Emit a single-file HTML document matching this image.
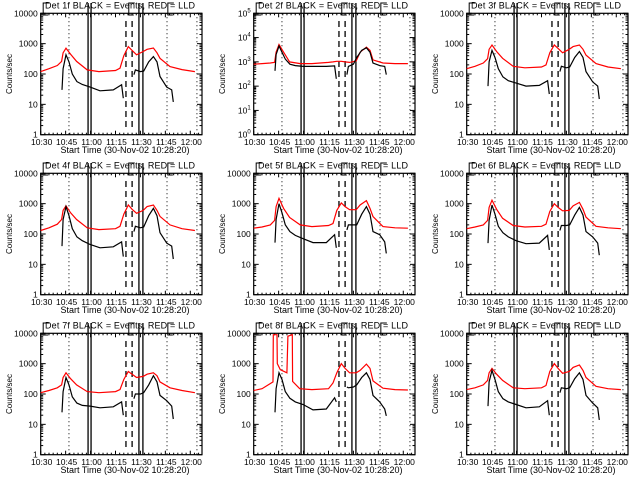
<!DOCTYPE html>
<html><head><meta charset="utf-8"><style>
html,body{margin:0;padding:0;background:#fff;}
svg{display:block;font-family:"Liberation Sans",sans-serif;}
</style></head><body>
<svg id="chart" width="640" height="480" viewBox="0 0 640 480" xmlns="http://www.w3.org/2000/svg">
<rect x="0" y="0" width="640" height="480" fill="#fff"/>
</svg>
<script>
// minutes after 10:30
const blackTimes = [12.8,13.5,15.2,17,19,21.8,25,29.7,35.7,43.7,48.7,49.7,null,56.1,57,60,62,65,67.8,70,71.8,75.8,78.8,79.8];
const redTimes = [0,5,10,12.6,13.5,15.2,18,21.6,28,35,45,47.7,50,52.7,55,57.7,61.7,64,67.8,70,71.8,77.8,85,92.8];
const redTimes8 = [0,5,11.6,11.8,14,14.2,16,20,20.6,23.2,23.4,27.7,35,45,47.7,50,52.7,55,57.7,61.7,64,67.8,70,71.8,77.8,85,92.8];
const detNames = ["1f","2f","3f","4f","5f","6f","7f","8f","9f"];
const black1 = [30,150,430,250,100,56,45,37,28,30,44,16,null,95,137,120,125,250,375,250,83,37,30,12];
const red1 = [120,150,190,260,500,710,450,260,137,120,130,155,400,800,600,430,550,650,720,500,330,175,140,120];
const black2 = [430,2000,4500,2500,1300,800,700,650,650,650,680,200,null,300,650,800,1500,3000,3800,2500,900,700,650,300];
const red2 = [800,850,900,950,2500,5200,2500,1000,850,850,950,1000,1050,1050,1000,950,1100,2500,4000,3000,1200,900,850,850];
const black3 = [40,250,600,350,150,80,60,50,40,42,60,22,null,120,180,160,170,350,550,350,120,55,40,15];
const red3 = [150,180,230,320,650,900,550,330,180,160,170,200,500,900,700,500,650,800,900,650,420,220,170,150];
const black4 = [40,300,800,400,150,80,60,45,35,38,55,18,null,120,180,160,170,400,700,400,110,50,40,15];
const red4 = [130,160,210,300,600,850,500,300,160,140,150,180,450,900,650,480,600,800,900,600,380,200,150,130];
const black5 = [52,300,1000,500,200,120,90,70,52,52,95,35,null,137,200,200,200,450,800,450,120,95,55,23];
const red5 = [155,170,200,280,800,1500,700,350,200,175,190,220,600,1050,800,630,630,900,1260,700,375,175,160,155];
const black6 = [50,280,900,450,180,110,80,60,48,50,90,30,null,130,190,190,200,420,750,420,120,80,50,20];
const red6 = [150,170,200,280,750,1300,650,330,190,170,180,210,550,1000,750,580,600,850,1100,650,360,180,160,150];
const black7 = [25,120,350,200,80,50,42,40,35,38,55,20,null,70,100,100,110,200,400,250,90,60,40,15];
const red7 = [110,130,160,200,350,500,320,200,120,110,120,140,300,550,450,350,380,450,500,400,250,160,130,110];
const black8 = [25,150,500,300,120,72,55,45,30,32,75,55,null,170,160,170,200,350,500,300,90,55,32,19];
const red8 = [130,150,250,9000,9000,1000,630,500,8000,9000,260,150,140,150,230,500,1000,700,500,500,600,970,700,270,155,140,135];
const black9 = [40,250,600,300,120,70,55,45,35,38,60,20,null,110,160,150,160,320,500,300,90,50,35,14];
const red9 = [140,160,200,280,500,700,450,280,160,150,160,190,550,1000,700,480,550,750,900,600,350,180,150,140];
const blackSeries = [black1,black2,black3,black4,black5,black6,black7,black8,black9];
const redSeries = [red1,red2,red3,red4,red5,red6,red7,red8,red9];
const xTickLabels = ["10:30","10:45","11:00","11:15","11:30","11:45","12:00"];
const xTickMinutes = [0,15,30,45,60,75,90];
const yTickLabels = ["1","10","100","1000","10000"];
const yTickLabels2 = ["0","1","2","3","4","5"];
const dottedLines = [17,76,94];
const solidLines = [28.5,30.3,59.1,61.5];
const dashedLines = [51.3,55];

const NS = "http://www.w3.org/2000/svg";
const svg = document.getElementById("chart");
function mk(tag, attrs, parent){const e=document.createElementNS(NS,tag);for(const k in attrs)e.setAttribute(k,attrs[k]);(parent||svg).appendChild(e);return e;}

for(let p=0;p<9;p++){
  const ox = (p%3)*213, oy = Math.floor(p/3)*160;
  const L=ox+40.7, R=ox+202, T=oy+13.3, B=oy+134.7;
  const dec = p===1?5:4;
  const xs = m => L + m*1.662;
  const ys = v => B - Math.log10(v)/dec*(B-T);
  const g = mk("g",{});
  
  
  const t = mk("text",{x:ox+45,y:oy+8.5,"font-size":"9",textLength:"150",lengthAdjust:"spacing",fill:"#000"},g);
  t.textContent = "Det "+detNames[p]+" BLACK = Events, RED = LLD";
  
  
  const yl = mk("text",{x:0,y:0,"font-size":"8","text-anchor":"middle",transform:`translate(${ox+12},${oy+74}) rotate(-90)`},g);
  yl.textContent = "Counts/sec";
  
  
  const xl = mk("text",{x:ox+125,y:oy+153,"font-size":"9","text-anchor":"middle"},g);
  xl.textContent = "Start Time (30-Nov-02 10:28:20)";
  
  
  for(let i=0;i<xTickMinutes.length;i++){
    const x = xs(xTickMinutes[i]);
    mk("line",{x1:x,x2:x,y1:B,y2:B-4,stroke:"#000"},g);
    mk("line",{x1:x,x2:x,y1:T,y2:T+4,stroke:"#000"},g);
    const lt = mk("text",{x:x+1,y:oy+145,"font-size":"8.5","text-anchor":"middle"},g);
    lt.textContent = xTickLabels[i];
    
    
  }
  for(let m=2.5;m<97;m+=2.5){ if(m%15===0) continue; const x=xs(m); if(x>R) break;
    mk("line",{x1:x,x2:x,y1:B,y2:B-2,stroke:"#000"},g);
    mk("line",{x1:x,x2:x,y1:T,y2:T+2,stroke:"#000"},g);
  }
  for(let d=0;d<=dec;d++){
    const y = ys(Math.pow(10,d));
    mk("line",{x1:L,x2:L+5,y1:y,y2:y,stroke:"#000"},g);
    mk("line",{x1:R,x2:R-5,y1:y,y2:y,stroke:"#000"},g);
    const lt = mk("text",{x:L-3,y:y+3,"font-size":"8.5","text-anchor":"end"},g);
    if(p===1){ lt.textContent="10"; const s=mk("tspan",{dy:-4,"font-size":"6"},lt); s.textContent=yTickLabels2[d]; }
    else lt.textContent = yTickLabels[d];
    
    
    if(d<dec) for(let k=2;k<10;k++){ const yy=ys(k*Math.pow(10,d));
      mk("line",{x1:L,x2:L+2.5,y1:yy,y2:yy,stroke:"#000"},g);
      mk("line",{x1:R,x2:R-2.5,y1:yy,y2:yy,stroke:"#000"},g);}
  }
  const fr = mk("rect",{x:L,y:T,width:R-L,height:B-T,fill:"none",stroke:"#000","stroke-width":1.2},g);
  
  
  dottedLines.forEach(m=>{const x=xs(m); mk("line",{x1:x,x2:x,y1:T,y2:B,stroke:"#000","stroke-dasharray":"1,3"},g);});
  solidLines.forEach(m=>{const x=xs(m); mk("line",{x1:x,x2:x,y1:oy+3,y2:B,stroke:"#000","stroke-width":1.3},g);});
  dashedLines.forEach(m=>{const x=xs(m); mk("line",{x1:x,x2:x,y1:oy+21,y2:oy+128,stroke:"#000","stroke-width":1.3,"stroke-dasharray":"6,4"},g);});
  [1.5,53,76.5].forEach(m=>{const x=xs(m);
    mk("polyline",{points:`${x+6},${oy+3} ${x},${oy+3} ${x},${oy+15} ${x+5},${oy+15}`,fill:"none",stroke:"#000"},g);});
  function drawSeries(times, vals, color, name){
    let segs=[], cur=[];
    for(let i=0;i<times.length;i++){
      if(times[i]===null||vals[i]===null){ if(cur.length) segs.push(cur); cur=[]; continue; }
      cur.push(xs(times[i]).toFixed(1)+","+ys(vals[i]).toFixed(1));
    }
    if(cur.length) segs.push(cur);
    segs.forEach(s=>{const pl=mk("polyline",{points:s.join(" "),fill:"none",stroke:color,"stroke-width":1.2},g);
      
      });
  }
  drawSeries(p===7?redTimes8:redTimes, redSeries[p], "#ff0000", "red-lld-series");
  drawSeries(blackTimes, blackSeries[p], "#000", "black-events-series");
}
</script>
</body></html>
